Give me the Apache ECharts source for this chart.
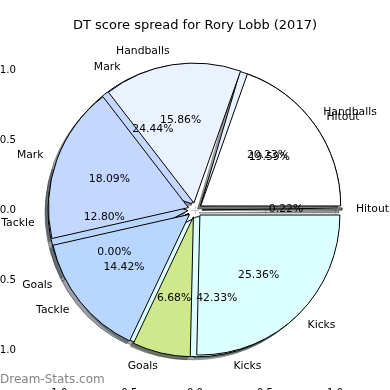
<!DOCTYPE html>
<html><head><meta charset="utf-8">
<script src="https://cdn.jsdelivr.net/npm/echarts@6/dist/echarts.min.js"></script>
<style>html,body{margin:0;padding:0;background:#fff}#c{width:390px;height:390px}</style>
</head><body><div id="c"></div>
<script>
// ---- data ----
const categories = ['Kicks', 'Goals', 'Tackle', 'Mark', 'Handballs', 'Hitout'];
const spreadA = [42.33, 0.00, 12.80, 24.44, 20.23, 0.22];
const spreadB = [25.36, 6.68, 14.42, 18.09, 15.86, 19.59];
const tickValues = [-1, -0.5, 0, 0.5, 1];
const titleText = 'DT score spread for Rory Lobb (2017)';
const watermarkText = 'Dream-Stats.com';

// ---- styles ----
const sliceColors = ['#dcffff', '#d0e88c', '#b8d6ff', '#c4d7ff', '#eaf1ff', '#ffffff'];
const FONT = 'DejaVu Sans';
const FS = 10.8;
const TFS = 10.2;
const CX = 195, CY = 210, R = 140, EXPLODE = 7;
const XL = 1.2286, YL = 1.2357;

function shade(hex) {
  const n = parseInt(hex.slice(1), 16);
  const r = (n >> 16) & 255, g = (n >> 8) & 255, b = n & 255;
  return 'rgba(' + Math.round(r * 0.3) + ',' + Math.round(g * 0.3) + ',' + Math.round(b * 0.3) + ',0.5)';
}
function items(vals, styleFn) {
  return vals.map(function (v, i) {
    const st = styleFn(i);
    return { name: categories[i], value: v, selected: true, itemStyle: st, select: { itemStyle: st } };
  });
}
function pieBase(extra) {
  return Object.assign({
    type: 'pie', clockwise: true, startAngle: 0, selectedMode: 'multiple', selectedOffset: EXPLODE,
    avoidLabelOverlap: false, animation: false, emphasis: { disabled: true },
    labelLayout: { hideOverlap: false, moveOverlap: null },
    center: [CX, CY], radius: R, labelLine: { show: false }, label: { show: false }, tooltip: { show: false }
  }, extra);
}
const clear = function () { return { color: 'rgba(0,0,0,0)', borderWidth: 0 }; };
const tickFmt = function (v) { return (v < 0 ? '\u2212' : '') + Math.abs(v).toFixed(1); };

function nameSeries(vals) {
  return pieBase({
    z: 5, silent: true, data: items(vals, clear),
    label: { show: true, position: 'outside', formatter: '{b}', fontFamily: FONT, fontSize: FS, color: '#000',
      distanceToLabelLine: 0, overflow: 'none', textBorderWidth: 0 },
    labelLine: { show: false, length: 14, length2: 0 }
  });
}
function pctSeries(vals) {
  return pieBase({
    z: 5, silent: true, radius: [0, 162], data: items(vals, clear),
    label: { show: true, position: 'inside', formatter: function (p) { return p.value.toFixed(2) + '%'; },
      fontFamily: FONT, fontSize: FS, color: '#000', textBorderWidth: 0 }
  });
}

const axisCommon = function (min, max) {
  return {
    type: 'value', gridIndex: 0, min: min, max: max,
    axisLine: { show: false }, splitLine: { show: false },
    axisTick: { show: true, customValues: tickValues, length: 4, inside: false, lineStyle: { color: '#c8c8c8', width: 1 } }
  };
};

const option = {
  animation: false,
  backgroundColor: '#fff',
  title: { text: titleText, left: 'center', top: 19, padding: 0,
    textStyle: { fontFamily: FONT, fontSize: 13, fontWeight: 'normal', color: '#000' } },
  grid: { left: 23, right: 23, top: 37, bottom: 7, containLabel: false, outerBoundsMode: 'none' },
  xAxis: [
    Object.assign(axisCommon(-XL, XL), { position: 'bottom',
      axisLabel: { show: true, customValues: tickValues, margin: 5, formatter: tickFmt, fontFamily: FONT, fontSize: TFS, color: '#000' } }),
    Object.assign(axisCommon(-XL, XL), { position: 'top', axisLabel: { show: false } })
  ],
  yAxis: [
    Object.assign(axisCommon(-YL, YL), { position: 'left',
      axisLabel: { show: true, customValues: tickValues, margin: 7, formatter: tickFmt, fontFamily: FONT, fontSize: TFS, color: '#000' } }),
    Object.assign(axisCommon(-YL, YL), { position: 'right', axisLabel: { show: false } })
  ],
  graphic: [{
    type: 'text', left: 0, top: 374, silent: true, z: 10,
    style: { text: watermarkText, fill: 'rgba(100,100,100,0.8)', font: '12px "DejaVu Sans"' }
  }],
  series: [
    // shadows (behind everything)
    pieBase({ z: 1, center: [CX - 3, CY + 3], data: items(spreadA, function (i) { return { color: shade(sliceColors[i]), borderColor: shade(sliceColors[i]), borderWidth: 1 }; }) }),
    pieBase({ z: 1, center: [CX - 3, CY + 3], data: items(spreadB, function (i) { return { color: shade(sliceColors[i]), borderColor: shade(sliceColors[i]), borderWidth: 1 }; }) }),
    // wedges
    pieBase({ z: 2, data: items(spreadA, function (i) { return { color: sliceColors[i], borderColor: '#000', borderWidth: 1 }; }) }),
    pieBase({ z: 3, data: items(spreadB, function (i) { return { color: sliceColors[i], borderColor: '#000', borderWidth: 1 }; }) }),
    // texts
    nameSeries(spreadA), pctSeries(spreadA),
    nameSeries(spreadB), pctSeries(spreadB)
  ]
};

const chart = echarts.init(document.getElementById('c'), null, { renderer: 'canvas', width: 390, height: 390 });
chart.setOption(option);
</script>
</body></html>
